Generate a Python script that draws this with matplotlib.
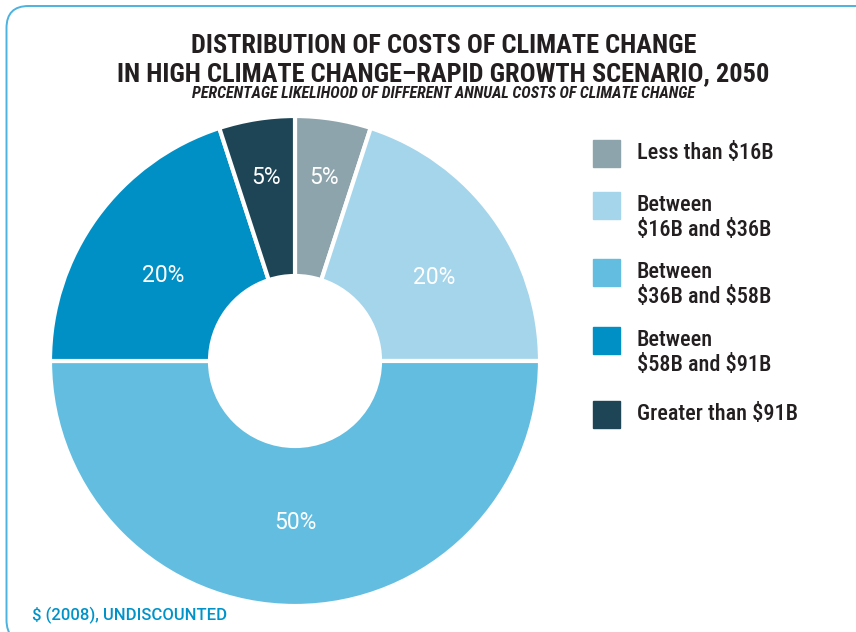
import matplotlib

matplotlib.use("Agg")
import matplotlib.pyplot as plt
from matplotlib import font_manager
from matplotlib.patches import FancyBboxPatch, Rectangle
import numpy as np

# data
categories = [
    "Less than $16B",
    "Between\n$16B and $36B",
    "Between\n$36B and $58B",
    "Between\n$58B and $91B",
    "Greater than $91B",
]
shares = [5, 20, 50, 20, 5]
colors = ["#8ea4ac", "#a5d5eb", "#63bde0", "#0090c6", "#1d4556"]
# label placement (fraction of radius, angle shift in degrees)
label_dist = [0.76, 0.665, 0.66, 0.64, 0.76]
label_shift = [0, -5, 0, 3, 0]

available = {f.name for f in font_manager.fontManager.ttflist}
FONT = "DejaVu Sans"
for cand in ["Roboto Condensed", "Liberation Sans Narrow", "DejaVu Sans Condensed",
             "Open Sans Condensed", "Roboto", "Liberation Sans"]:
    if cand in available:
        FONT = cand
        break
WIDE = "Roboto" if "Roboto" in available else "DejaVu Sans"
plt.rcParams["font.family"] = [FONT, "DejaVu Sans"]
plt.rcParams["text.parse_math"] = False

W, H = 856, 632
fig = plt.figure(figsize=(W / 100, H / 100), dpi=100)


def fx(px):
    return px / W


def fy(py):
    return 1 - py / H


# rounded frame
frame = FancyBboxPatch(
    (0.065, -0.1), 8.8, 6.36,
    boxstyle="round,pad=0,rounding_size=0.22",
    transform=fig.dpi_scale_trans, fill=False,
    edgecolor="#4cb2df", linewidth=1.4,
)
fig.patches.append(frame)

TXT = "#231f20"
fig.text(fx(444), fy(46), "DISTRIBUTION OF COSTS OF CLIMATE CHANGE",
         ha="center", va="center", fontsize=19, fontweight="bold", color=TXT)
fig.text(fx(443), fy(74), "IN HIGH CLIMATE CHANGE\u2013RAPID GROWTH SCENARIO, 2050",
         ha="center", va="center", fontsize=19, fontweight="bold", color=TXT)
fig.text(fx(444), fy(94), "PERCENTAGE LIKELIHOOD OF DIFFERENT ANNUAL COSTS OF CLIMATE CHANGE",
         ha="center", va="center", fontsize=11.5, fontweight="bold", style="italic", color=TXT)

# donut
cx, cy, r = 295, 361, 245
ax = fig.add_axes([fx(cx - r), fy(cy + r), 2 * r / W, 2 * r / H])
wedges, _ = ax.pie(
    shares, colors=colors, startangle=90, counterclock=False,
    radius=1, wedgeprops=dict(width=1 - 85 / 245, edgecolor="white", linewidth=3),
)
ax.set_xlim(-1, 1)
ax.set_ylim(-1, 1)
ax.set_aspect("equal")
ax.axis("off")
for w, v, d, s in zip(wedges, shares, label_dist, label_shift):
    ang = np.deg2rad((w.theta1 + w.theta2) / 2 + s)
    ax.text(d * np.cos(ang), d * np.sin(ang), f"{v}%", ha="center", va="center",
            color="white", fontsize=16.5, family=WIDE)

# legend
sq_y = [153, 205, 272, 340, 414]
for cat, col, yy in zip(categories, colors, sq_y):
    fig.patches.append(Rectangle((fx(593), fy(yy + 13.5)), 27 / W, 27 / H,
                                 transform=fig.transFigure, color=col))
    n = cat.count("\n")
    fig.text(fx(637), fy(yy + 12.5 * n), cat, ha="left", va="center", fontsize=16,
             fontweight="medium", color=TXT, linespacing=1.13)

fig.text(fx(32), fy(615), "$ (2008), UNDISCOUNTED", ha="left", va="center",
         fontsize=12, fontweight="medium", color="#0093c9", family=WIDE)

fig.savefig("out.png", dpi=100)
